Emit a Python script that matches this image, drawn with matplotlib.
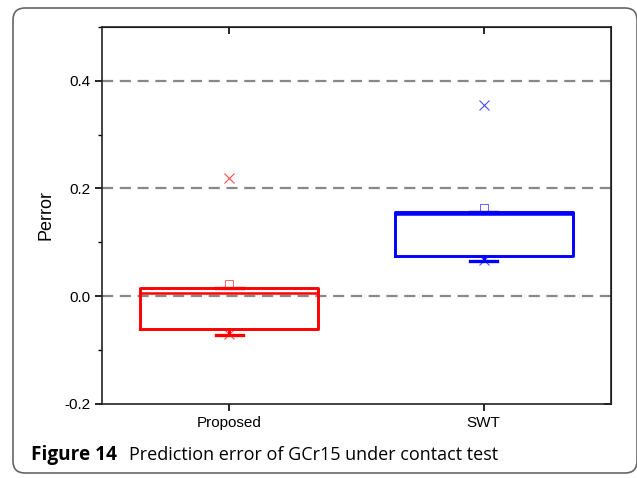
import matplotlib
matplotlib.use('Agg')
import matplotlib.pyplot as plt
from matplotlib.patches import FancyBboxPatch
from matplotlib.ticker import MultipleLocator

plt.rcParams['font.family'] = ['Liberation Sans', 'DejaVu Sans']

# data
labels = ['Proposed', 'SWT']
q1 = [-0.061, 0.074]
q3 = [0.016, 0.156]
med = [0.006, 0.152]
whislo = [-0.072, 0.065]
means = [0.022, 0.164]
x_min = [-0.070, 0.067]
x_max = [0.220, 0.355]
colors = ['#ff0000', '#0000ff']
yticks = [-0.2, 0.0, 0.2, 0.4]

fig = plt.figure(figsize=(6.37, 4.78), dpi=100)
ax = fig.add_axes([0.160, 0.155, 0.799, 0.789])

# rounded frame around the whole figure (inches)
frame = FancyBboxPatch((0.13, 0.05), 6.24, 4.65, boxstyle='round,pad=0,rounding_size=0.12',
                       transform=fig.dpi_scale_trans, fill=False, edgecolor='#666666',
                       linewidth=1.2, clip_on=False)
fig.patches.append(frame)

for y in [0.0, 0.2, 0.4]:
    ax.axhline(y, color='#888888', linestyle=(0, (5, 3)), linewidth=1.6, zorder=1)

for i in range(len(labels)):
    st = [dict(med=med[i], q1=q1[i], q3=q3[i], whislo=whislo[i], whishi=q3[i],
               mean=means[i], fliers=[], label=labels[i])]
    c = colors[i]
    ax.bxp(st, positions=[i + 1], widths=0.7, capwidths=0.106, showmeans=True,
           showfliers=False, manage_ticks=False,
           boxprops=dict(color=c, linewidth=2.1),
           medianprops=dict(color=c, linewidth=1.8),
           whiskerprops=dict(color=c, linewidth=2.1),
           capprops=dict(color=c, linewidth=2.4),
           meanprops=dict(marker='s', markerfacecolor='none', markeredgecolor=c,
                          markersize=6, markeredgewidth=0.6, alpha=0.7),
           zorder=3)
    ax.plot([i + 1, i + 1], [x_min[i], x_max[i]], linestyle='none', marker='x',
            color=c, markersize=7, markeredgewidth=0.8, alpha=0.7, zorder=4)

ax.set_xlim(0.5, 2.5)
ax.set_ylim(-0.2, 0.5)
ax.set_xticks([1, 2])
ax.set_xticklabels(labels, fontsize=11)
ax.set_yticks(yticks)
ax.set_yticklabels(['%.1f' % v for v in yticks], fontsize=11)
ax.yaxis.set_minor_locator(MultipleLocator(0.1))
ax.tick_params(axis='both', which='major', direction='out', length=5, width=1.2)
ax.tick_params(axis='y', which='minor', direction='out', length=3, width=1.0)
for s in ax.spines.values():
    s.set_linewidth(1.2)
    s.set_color('#222222')

# inward ticks on top and right
axt = ax.secondary_xaxis('top')
axt.set_xticks([1, 2])
axt.set_xticklabels([])
axt.tick_params(direction='in', length=5, width=1.2)
axr = ax.secondary_yaxis('right')
axr.set_yticks(yticks)
axr.set_yticklabels([])
axr.tick_params(direction='in', length=5, width=1.2)

ax.set_ylabel('Perror', fontsize=13, labelpad=7)

fig.text(0.048, 0.038, 'Figure 14', fontsize=13.7, fontweight='bold', family='Open Sans',
         va='baseline')
fig.text(0.2025, 0.038, 'Prediction error of GCr15 under contact test', fontsize=13,
         family='Open Sans', va='baseline')

fig.savefig('out.png', dpi=100)
